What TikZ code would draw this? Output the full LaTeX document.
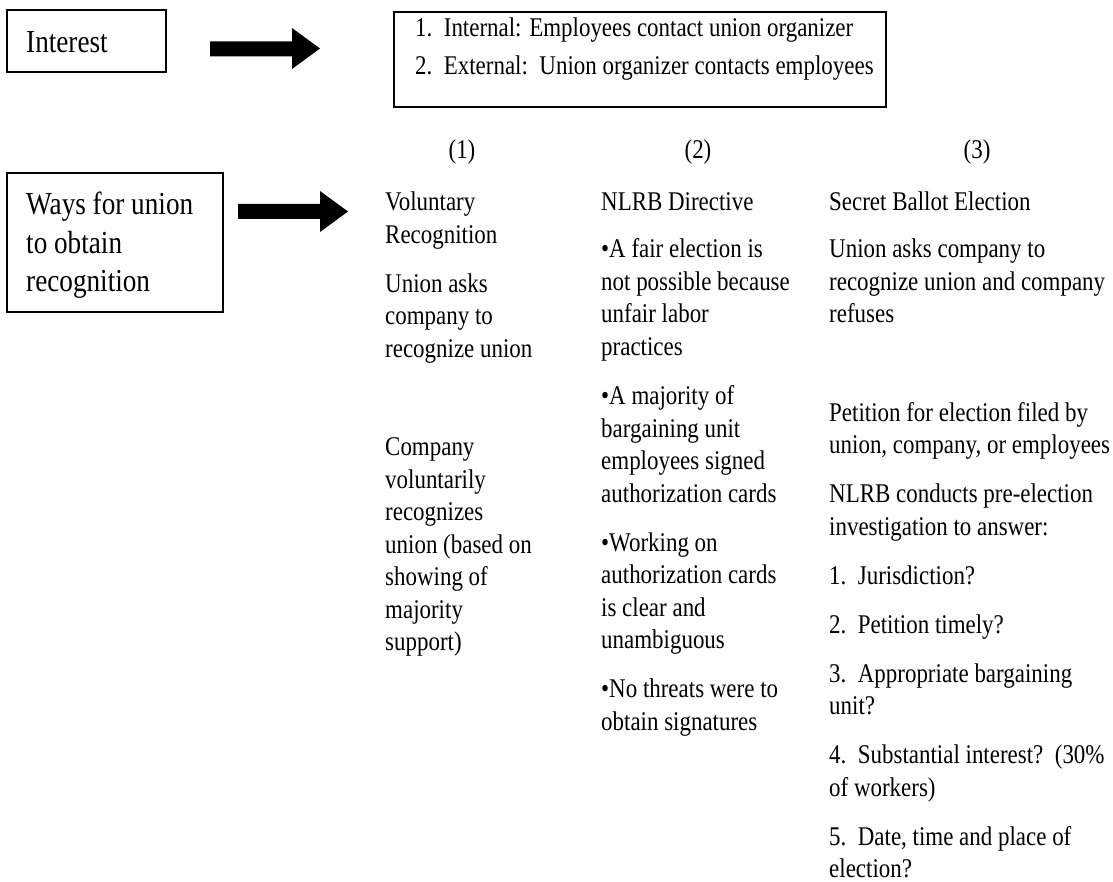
\documentclass[tikz,border=0pt]{standalone}
\usepackage{fontspec}
\setmainfont{Liberation Serif}[FakeStretch=0.85]
\begin{document}
\begin{tikzpicture}[x=1pt,y=-1pt,
  txt/.style={anchor=base west,inner sep=0pt,font=\fontsize{27}{32}\selectfont},
  hdr/.style={anchor=base,inner sep=0pt,font=\fontsize{27}{32}\selectfont},
  bigtxt/.style={anchor=base west,inner sep=0pt,font=\fontsize{32}{38}\selectfont},
  box/.style={draw,line width=1.3pt,inner sep=0pt},
  blockarrow/.style={fill=black}]
\useasboundingbox (0,0) rectangle (1113,882);
% boxes
\node[box,minimum width=159pt,minimum height=62pt] (ibox) at (86.5,41) {};
\node[box,minimum width=216pt,minimum height=139pt] (wbox) at (115,242.5) {};
\node[box,minimum width=492pt,minimum height=95pt] (tbox) at (640,59.5) {};
% box texts
\node[bigtxt] (interest) at (26,53) {Interest};
\node[bigtxt] (w1) at (26,215) {Ways for union};
\node[bigtxt] (w2) at (26,253.5) {to obtain};
\node[bigtxt] (w3) at (26,292) {recognition};
\node[txt] (t1) at (415,37) {1.~~Internal: Employees contact union organizer};
\node[txt] (t2) at (415,75) {2.~~External:~~Union organizer contacts employees};
% block arrows
\fill[blockarrow] (210,41.5) -- (292,41.5) -- (292,28) -- (320,48.5) -- (292,69) -- (292,56.5) -- (210,56.5) -- cycle;
\fill[blockarrow] (238,204) -- (320,204) -- (320,191) -- (348,211.5) -- (320,232) -- (320,219) -- (238,219) -- cycle;
% headers
\node[hdr] (h1) at (462,159) {(1)};
\node[hdr] (h2) at (698,159) {(2)};
\node[hdr] (h3) at (977,159) {(3)};
% column 1
\node[txt] (a1) at (385,211) {Voluntary};
\node[txt] (a2) at (385,243.5) {Recognition};
\node[txt] (a3) at (385,292.5) {Union asks};
\node[txt] (a4) at (385,325) {company to};
\node[txt] (a5) at (385,357.5) {recognize union};
\node[txt] (a6) at (385,455.5) {Company};
\node[txt] (a7) at (385,488) {voluntarily};
\node[txt] (a8) at (385,520.5) {recognizes};
\node[txt] (a9) at (385,553) {union (based on};
\node[txt] (a10) at (385,585.5) {showing of};
\node[txt] (a11) at (385,618) {majority};
\node[txt] (a12) at (385,650.5) {support)};
% column 2
\node[txt] (b1) at (601,211) {NLRB Directive};
\node[txt] (b2) at (601,258) {•A fair election is};
\node[txt] (b3) at (601,290.5) {not possible because};
\node[txt] (b4) at (601,323) {unfair labor};
\node[txt] (b5) at (601,355.5) {practices};
\node[txt] (b6) at (601,404.5) {•A majority of};
\node[txt] (b7) at (601,437) {bargaining unit};
\node[txt] (b8) at (601,469.5) {employees signed};
\node[txt] (b9) at (601,502) {authorization cards};
\node[txt] (b10) at (601,551) {•Working on};
\node[txt] (b11) at (601,583.5) {authorization cards};
\node[txt] (b12) at (601,616) {is clear and};
\node[txt] (b13) at (601,648.5) {unambiguous};
\node[txt] (b14) at (601,697.5) {•No threats were to};
\node[txt] (b15) at (601,730) {obtain signatures};
% column 3
\node[txt] (c1) at (829,211) {Secret Ballot Election};
\node[txt] (c2) at (829,258) {Union asks company to};
\node[txt] (c3) at (829,290.5) {recognize union and company};
\node[txt] (c4) at (829,323) {refuses};
\node[txt] (c5) at (829,421) {Petition for election filed by};
\node[txt] (c6) at (829,453.5) {union, company, or employees};
\node[txt] (c7) at (829,502.5) {NLRB conducts pre-election};
\node[txt] (c8) at (829,535) {investigation to answer:};
\node[txt] (c9) at (829,584) {1.~~Jurisdiction?};
\node[txt] (c10) at (829,633) {2.~~Petition timely?};
\node[txt] (c11) at (829,682) {3.~~Appropriate bargaining};
\node[txt] (c12) at (829,714.5) {unit?};
\node[txt] (c13) at (829,763.5) {4.~~Substantial interest?~~(30\%};
\node[txt] (c14) at (829,796) {of workers)};
\node[txt] (c15) at (829,845) {5.~~Date, time and place of};
\node[txt] (c16) at (829,877.5) {election?};
\end{tikzpicture}
\end{document}
